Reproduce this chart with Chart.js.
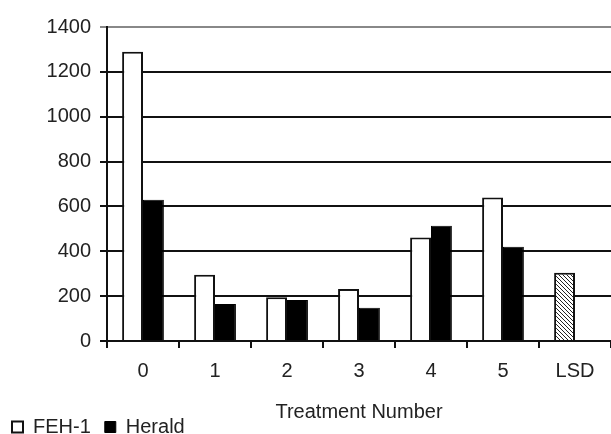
<!DOCTYPE html>
<html>
<head>
<meta charset="utf-8">
<script src="https://cdn.jsdelivr.net/npm/chart.js@4/dist/chart.umd.min.js"></script>
<style>
  html, body { margin: 0; padding: 0; background: #fff; }
  #wrap { width: 611px; height: 434px; }
</style>
</head>
<body>
<div id="wrap"><canvas id="chart"></canvas></div>
<script>
// data
const categories = ['0', '1', '2', '3', '4', '5', 'LSD'];
const feh1Values = [1290, 295, 195, 232, 462, 640, 304];   // last one is the LSD bar
const heraldValues = [630, 165, 183, 148, 514, 420, null];
const yTicks = [0, 200, 400, 600, 800, 1000, 1200, 1400];

// hatch pattern for the LSD bar
function makeHatch() {
    const c = document.createElement('canvas');
    c.width = 4;
    c.height = 4;
    const g = c.getContext('2d');
    g.fillStyle = '#fff';
    g.fillRect(0, 0, 4, 4);
    g.strokeStyle = '#222';
    g.lineWidth = 1;
    g.beginPath();
    g.moveTo(-1, -1); g.lineTo(5, 5);
    g.moveTo(-1, 3); g.lineTo(1, 5);
    g.moveTo(3, -1); g.lineTo(5, 1);
    g.stroke();
    return g.createPattern(c, 'repeat');
}

const hatch = makeHatch();
const fehColors = categories.map(c => c === 'LSD' ? hatch : '#ffffff');

Chart.defaults.font.family = '"Liberation Sans", Arial, sans-serif';
Chart.defaults.color = '#222';

new Chart(document.getElementById('chart'), {
    type: 'bar',
    data: {
        labels: categories,
        datasets: [
            {
                label: 'FEH-1',
                data: feh1Values,
                backgroundColor: fehColors,
                borderColor: '#111',
                borderWidth: 2,
                borderSkipped: 'bottom'
            },
            {
                label: 'Herald',
                data: heraldValues,
                backgroundColor: '#000',
                borderColor: '#000',
                borderWidth: 1,
                borderSkipped: 'bottom'
            }
        ]
    },
    options: {
        responsive: true,
        maintainAspectRatio: false,
        animation: false,
        // legend sits partly below the canvas edge, like the original
        layout: { padding: { left: -2, right: 0, top: 27, bottom: -13 } },
        categoryPercentage: 0.58,
        barPercentage: 1.0,
        plugins: {
            tooltip: { enabled: false },
            legend: {
                position: 'bottom',
                align: 'start',
                labels: {
                    font: { size: 20 },
                    boxWidth: 11,
                    boxHeight: 11,
                    padding: 14,
                    color: '#222'
                }
            }
        },
        scales: {
            x: {
                grid: {
                    offset: true,
                    drawOnChartArea: false,
                    drawTicks: true,
                    tickLength: 7,
                    color: '#111',
                    lineWidth: 2
                },
                border: { color: '#111', width: 2 },
                ticks: { font: { size: 20 }, padding: 11 },
                title: {
                    display: true,
                    text: 'Treatment Number',
                    font: { size: 20 },
                    padding: { top: 6, bottom: -21 }
                }
            },
            y: {
                min: 0,
                max: 1400,
                afterBuildTicks: axis => {
                    axis.ticks = yTicks.map(v => ({ value: v }));
                },
                afterFit: axis => {
                    axis.width = 109;
                },
                grid: {
                    color: ctx => ctx.tick && ctx.tick.value === 1400 ? '#888' : '#111',
                    lineWidth: 2,
                    tickLength: 7
                },
                border: { color: '#111', width: 2 },
                ticks: {
                    font: { size: 20 },
                    padding: 9,
                    callback: v => String(v)
                }
            }
        }
    }
});
</script>
</body>
</html>
